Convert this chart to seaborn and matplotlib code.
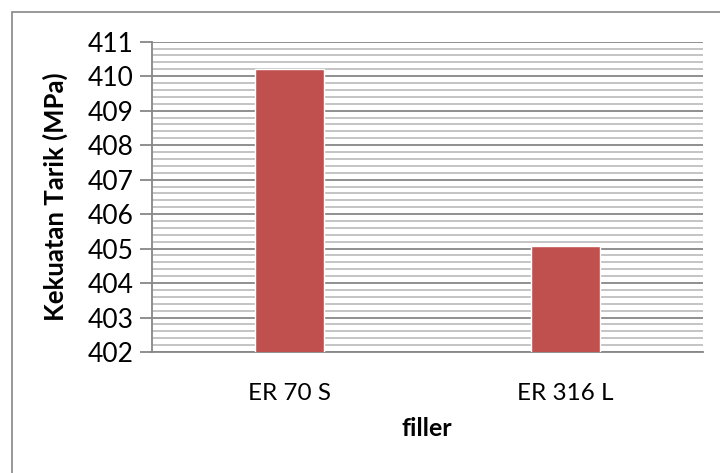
import matplotlib
matplotlib.use("Agg")
import matplotlib.pyplot as plt
from matplotlib.ticker import MultipleLocator
from matplotlib.patches import Rectangle
import seaborn as sns
import pandas as pd

categories = ["ER 70 S", "ER 316 L"]
values = [410.2, 405.08]
y_ticks = [402, 403, 404, 405, 406, 407, 408, 409, 410, 411]

sns.set_theme(style="white")
plt.rcParams["font.family"] = ["Lato", "DejaVu Sans"]

df = pd.DataFrame({"filler": categories, "value": values})

fig = plt.figure(figsize=(7.2, 4.73), dpi=100)
ax = fig.add_axes([151.5 / 720, 1 - 352 / 473, (703 - 151.5) / 720, (352 - 41.7) / 473])

sns.barplot(data=df, x="filler", y="value", color="#C0504D", saturation=1,
            width=0.25, ax=ax, zorder=3)

ax.set_xlim(-0.5, 1.5)
ax.set_ylim(402, 411)
ax.set_yticks(y_ticks)
ax.yaxis.set_minor_locator(MultipleLocator(0.2))
ax.grid(which="major", axis="y", color="#878787", linewidth=1.3, zorder=0)
ax.grid(which="minor", axis="y", color="#BFBFBF", linewidth=1.3, zorder=0)
ax.set_axisbelow(True)

for s in ["top", "right"]:
    ax.spines[s].set_visible(False)
ax.spines["left"].set_color("#878787")
ax.spines["left"].set_linewidth(1.3)
ax.spines["bottom"].set_color("#878787")
ax.spines["bottom"].set_linewidth(1.3)

ax.tick_params(axis="y", which="major", direction="out", length=9, width=1.3,
               color="#878787", left=True, labelsize=19, pad=4, labelcolor="black")
ax.tick_params(axis="y", which="minor", length=0)
ax.tick_params(axis="x", length=0, labelsize=17.5, pad=22, labelcolor="black")

ax.set_xlabel("filler", fontsize=18, fontweight="bold", labelpad=10, color="black")
ax.set_ylabel("Kekuatan Tarik (MPa)", fontsize=18.5, fontweight="bold", labelpad=14, color="black")

fig.patches.append(Rectangle((12 / 720, -0.05), 1.1, 1 - 12 / 473 + 0.05,
                             transform=fig.transFigure, fill=False,
                             edgecolor="#868686", linewidth=1.2))

fig.savefig("out.png", dpi=100)
